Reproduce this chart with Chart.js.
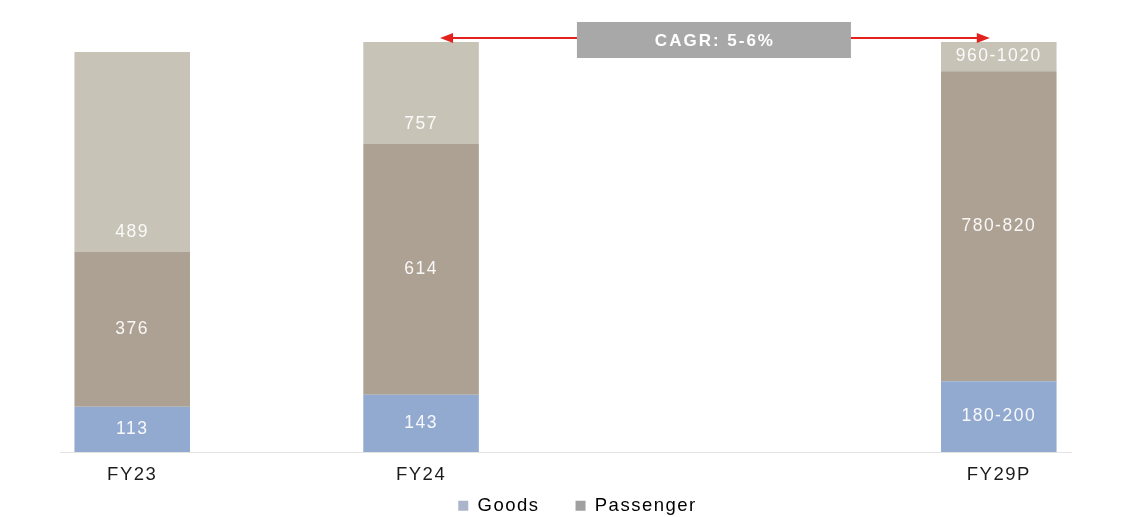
<!DOCTYPE html>
<html lang="en">
<head>
  <meta charset="UTF-8" />
  <title>Goods vs Passenger</title>
  <script src="https://cdn.jsdelivr.net/npm/chart.js"></script>
  <style>
    html, body { margin: 0; padding: 0; background: #fff; }
    #wrap { width: 1145px; height: 517px; }
  </style>
</head>
<body>
  <div id="wrap"><canvas id="grafico"></canvas></div>

  <script>
    // blank slots keep the gap between FY24 and FY29P
    const categories = ['FY23', '', 'FY24', '', '', '', 'FY29P'];

    // segment heights as drawn in the picture
    const goods     = [113, null, 143, null, null, null, 177];
    const passenger = [387, null, 627, null, null, null, 775];
    const totalCap  = [500, null, 255, null, null, null, 73];

    // text printed inside the segments
    const goodsText     = ['113', '', '143', '', '', '', '180-200'];
    const passengerText = ['376', '', '614', '', '', '', '780-820'];
    const totalText     = ['489', '', '757', '', '', '', '960-1020'];

    const cagrText = 'CAGR: 5-6%';
    const yMax = 1025;

    const FONT = "'Liberation Sans', Arial, sans-serif";

    // the source text is a bit wide, so space the letters out
    const spacing = {
      id: 'spacing',
      beforeUpdate(chart) { chart.ctx.letterSpacing = '1.5px'; },
      beforeDraw(chart) { chart.ctx.letterSpacing = '1.5px'; },
      afterLayout(chart) {
        // let the x labels hang below their thin box without being clipped
        chart.scales.x.bottom = chart.height;
        // legend sits a little right of centre in the original
        chart.legend.left += 12;
        chart.legend.right += 12;
      }
    };

    // labels inside the bars
    const barLabels = {
      id: 'barLabels',
      afterDatasetsDraw(chart) {
        const ctx = chart.ctx;
        const texts = [goodsText, passengerText, totalText];
        ctx.save();
        ctx.font = '17.5px ' + FONT;
        ctx.fillStyle = 'rgba(255,255,255,0.92)';
        ctx.textAlign = 'center';
        ctx.textBaseline = 'middle';
        chart.data.datasets.forEach((ds, di) => {
          chart.getDatasetMeta(di).data.forEach((bar, i) => {
            const t = texts[di][i];
            if (!t) return;
            const mid = (bar.y + bar.base) / 2;
            const y = di === 2 ? Math.max(bar.base - 20, mid) : mid;
            ctx.fillText(t, bar.x, y);
          });
        });
        ctx.restore();
      }
    };

    // CAGR box with red arrows
    const cagrNote = {
      id: 'cagrNote',
      afterDraw(chart) {
        const ctx = chart.ctx;
        const xs = chart.scales.x;
        const xA = xs.getPixelForValue(2);
        const xB = xs.getPixelForValue(6);
        const cx = (xA + xB) / 2 + 4;
        const boxW = 274, boxH = 36, cy = 40;
        const ay = 38;
        const tipL = xA + 19, tipR = xB - 9;

        ctx.save();
        ctx.strokeStyle = '#e3221e';
        ctx.fillStyle = '#e3221e';
        ctx.lineWidth = 2;
        ctx.beginPath();
        ctx.moveTo(tipL + 10, ay);
        ctx.lineTo(tipR - 10, ay);
        ctx.stroke();
        ctx.beginPath();
        ctx.moveTo(tipL, ay);
        ctx.lineTo(tipL + 13, ay - 5);
        ctx.lineTo(tipL + 13, ay + 5);
        ctx.closePath();
        ctx.fill();
        ctx.beginPath();
        ctx.moveTo(tipR, ay);
        ctx.lineTo(tipR - 13, ay - 5);
        ctx.lineTo(tipR - 13, ay + 5);
        ctx.closePath();
        ctx.fill();

        ctx.fillStyle = '#a8a8a8';
        ctx.fillRect(cx - boxW / 2, cy - boxH / 2, boxW, boxH);
        ctx.fillStyle = '#ffffff';
        ctx.font = 'bold 17px ' + FONT;
        ctx.letterSpacing = '2px';
        ctx.textAlign = 'center';
        ctx.textBaseline = 'middle';
        ctx.fillText(cagrText, cx + 1, cy + 1);
        ctx.restore();
      }
    };

    const legendColors = { Goods: '#aab5cc', Passenger: '#a0a0a0' };

    new Chart(document.getElementById('grafico'), {
      type: 'bar',
      data: {
        labels: categories,
        datasets: [
          { label: 'Goods', data: goods, backgroundColor: '#92aad0' },
          { label: 'Passenger', data: passenger, backgroundColor: '#ada193' },
          { label: 'Total', data: totalCap, backgroundColor: '#c8c3b7' }
        ]
      },
      options: {
        responsive: true,
        maintainAspectRatio: false,
        animation: false,
        layout: { padding: { left: 60, right: 74, top: 42, bottom: -8 } },
        datasets: { bar: { categoryPercentage: 1, barPercentage: 0.8 } },
        scales: {
          x: {
            stacked: true,
            grid: { display: false },
            border: { display: true, color: '#e4e4e4', width: 1 },
            ticks: { color: '#1c1c1c', font: { family: FONT, size: 18.5 }, padding: 4 },
            afterFit(scale) { scale.height = 8.5; }
          },
          y: {
            stacked: true,
            display: false,
            min: 0,
            max: yMax
          }
        },
        plugins: {
          tooltip: { enabled: false },
          legend: {
            position: 'bottom',
            labels: {
              color: '#1c1c1c',
              font: { family: FONT, size: 18.5 },
              boxWidth: 10,
              boxHeight: 10,
              padding: 36,
              generateLabels: chart => chart.data.datasets
                .map((ds, i) => ({
                  text: ds.label,
                  fillStyle: legendColors[ds.label],
                  strokeStyle: legendColors[ds.label],
                  lineWidth: 0,
                  datasetIndex: i
                }))
                .filter(l => l.text !== 'Total')
            }
          }
        }
      },
      plugins: [spacing, barLabels, cagrNote]
    });
  </script>
</body>
</html>
